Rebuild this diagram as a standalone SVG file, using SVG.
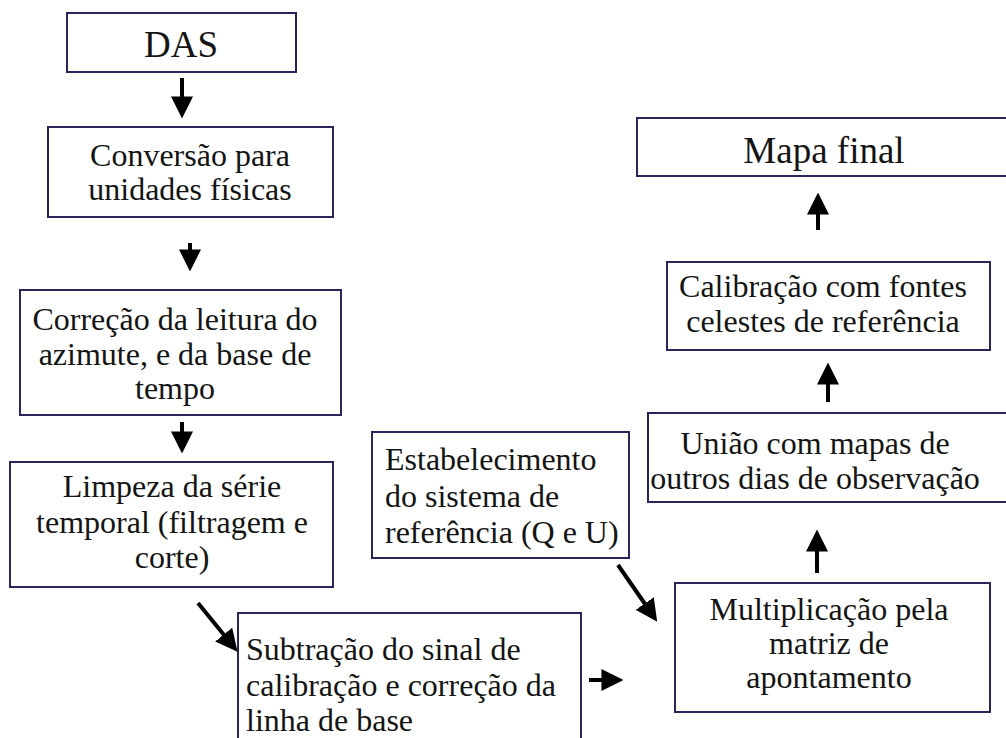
<svg xmlns="http://www.w3.org/2000/svg" width="1006" height="738" viewBox="0 0 1006 738">
<defs>
<marker id="ah" markerUnits="userSpaceOnUse" markerWidth="22" markerHeight="22" refX="0.5" refY="10" orient="auto" viewBox="0 0 20 20">
<path d="M0,0 L20,10 L0,20 z" fill="#000"/>
</marker>
</defs>
<rect width="1006" height="738" fill="#ffffff"/>
<g id="n-das">
<rect fill="#ffffff" stroke="#27255a" stroke-width="2" x="67" y="13" width="229" height="59"/>
<text font-family="'Liberation Serif'" font-size="37" fill="#141414" text-anchor="middle" x="181" y="57">DAS</text>
</g>
<g id="n-conversao">
<rect fill="#ffffff" stroke="#27255a" stroke-width="2" x="48" y="127" width="285" height="90"/>
<text font-family="'Liberation Serif'" font-size="32" fill="#141414" text-anchor="middle" x="190" y="166">Convers&#227;o para</text>
<text font-family="'Liberation Serif'" font-size="32" fill="#141414" text-anchor="middle" x="190" y="200">unidades f&#237;sicas</text>
</g>
<g id="n-correcao">
<rect fill="#ffffff" stroke="#27255a" stroke-width="2" x="20" y="290" width="321" height="125"/>
<text font-family="'Liberation Serif'" font-size="32" fill="#141414" text-anchor="middle" x="175" y="330">Corre&#231;&#227;o da leitura do</text>
<text font-family="'Liberation Serif'" font-size="32" fill="#141414" text-anchor="middle" x="175" y="365">azimute, e da base de</text>
<text font-family="'Liberation Serif'" font-size="32" fill="#141414" text-anchor="middle" x="175" y="399">tempo</text>
</g>
<g id="n-limpeza">
<rect fill="#ffffff" stroke="#27255a" stroke-width="2" x="10" y="462" width="323" height="125"/>
<text font-family="'Liberation Serif'" font-size="32" fill="#141414" text-anchor="middle" x="172" y="497">Limpeza da s&#233;rie</text>
<text font-family="'Liberation Serif'" font-size="32" fill="#141414" text-anchor="middle" x="172" y="533">temporal (filtragem e</text>
<text font-family="'Liberation Serif'" font-size="32" fill="#141414" text-anchor="middle" x="172" y="568">corte)</text>
</g>
<g id="n-subtracao">
<rect fill="#ffffff" stroke="#27255a" stroke-width="2" x="238" y="613" width="343" height="135"/>
<text font-family="'Liberation Serif'" font-size="32" fill="#141414" x="246" y="660">Subtra&#231;&#227;o do sinal de</text>
<text font-family="'Liberation Serif'" font-size="32" fill="#141414" x="246" y="696">calibra&#231;&#227;o e corre&#231;&#227;o da</text>
<text font-family="'Liberation Serif'" font-size="32" fill="#141414" x="246" y="731">linha de base</text>
</g>
<g id="n-estabelecimento">
<rect fill="#ffffff" stroke="#27255a" stroke-width="2" x="372" y="432" width="257" height="126"/>
<text font-family="'Liberation Serif'" font-size="32" fill="#141414" x="385" y="470">Estabelecimento</text>
<text font-family="'Liberation Serif'" font-size="32" fill="#141414" x="385" y="507">do sistema de</text>
<text font-family="'Liberation Serif'" font-size="32" fill="#141414" x="385" y="543">refer&#234;ncia (Q e U)</text>
</g>
<g id="n-multiplicacao">
<rect fill="#ffffff" stroke="#27255a" stroke-width="2" x="675" y="583" width="315" height="129"/>
<text font-family="'Liberation Serif'" font-size="32" fill="#141414" text-anchor="middle" x="829" y="620">Multiplica&#231;&#227;o pela</text>
<text font-family="'Liberation Serif'" font-size="32" fill="#141414" text-anchor="middle" x="829" y="654">matriz de</text>
<text font-family="'Liberation Serif'" font-size="32" fill="#141414" text-anchor="middle" x="829" y="688">apontamento</text>
</g>
<g id="n-uniao">
<rect fill="#ffffff" stroke="#27255a" stroke-width="2" x="648" y="413" width="370" height="89"/>
<text font-family="'Liberation Serif'" font-size="32" fill="#141414" text-anchor="middle" x="815" y="454">Uni&#227;o com mapas de</text>
<text font-family="'Liberation Serif'" font-size="32" fill="#141414" text-anchor="middle" x="815" y="489">outros dias de observa&#231;&#227;o</text>
</g>
<g id="n-calibracao">
<rect fill="#ffffff" stroke="#27255a" stroke-width="2" x="667" y="262" width="323" height="88"/>
<text font-family="'Liberation Serif'" font-size="32" fill="#141414" text-anchor="middle" x="823" y="297">Calibra&#231;&#227;o com fontes</text>
<text font-family="'Liberation Serif'" font-size="32" fill="#141414" text-anchor="middle" x="823" y="332">celestes de refer&#234;ncia</text>
</g>
<g id="n-mapa">
<rect fill="#ffffff" stroke="#27255a" stroke-width="2" x="637" y="118" width="380" height="58"/>
<text font-family="'Liberation Serif'" font-size="37" fill="#141414" text-anchor="middle" x="824" y="163">Mapa final</text>
</g>
<g id="connectors" stroke="#000" stroke-width="4" fill="none" marker-end="url(#ah)">
<line x1="182" y1="78" x2="182" y2="97"/>
<line x1="190" y1="243" x2="190" y2="250"/>
<line x1="182" y1="422" x2="182" y2="432"/>
<line x1="198" y1="603" x2="224" y2="635"/>
<line x1="589" y1="680" x2="602" y2="680"/>
<line x1="618" y1="565" x2="645" y2="604"/>
<line x1="817" y1="573" x2="817" y2="551"/>
<line x1="828" y1="402" x2="828" y2="384"/>
<line x1="818" y1="230" x2="818" y2="214"/>
</g>
</svg>
